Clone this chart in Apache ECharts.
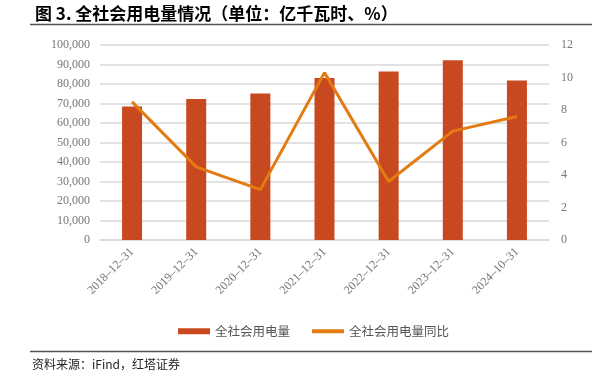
<!DOCTYPE html>
<html><head><meta charset="utf-8">
<script src="https://cdn.jsdelivr.net/npm/echarts@6/dist/echarts.min.js"></script>
<style>html,body{margin:0;padding:0;background:#fff}#c{width:595px;height:379px}</style>
</head><body><div id="c"></div>
<script>
const categories = ['2018-12-31','2019-12-31','2020-12-31','2021-12-31','2022-12-31','2023-12-31','2024-10-31'];
const consumption = [68449, 72255, 75110, 83128, 86372, 92241, 81854];
const yoy = [8.5, 4.5, 3.1, 10.3, 3.6, 6.7, 7.6];
const seriesNames = ['全社会用电量', '全社会用电量同比'];
const titleText = '图 3. 全社会用电量情况（单位：亿千瓦时、%）';
const sourceText = '资料来源：iFind，红塔证券';

const serif = '"Liberation Serif", "Noto Sans CJK SC", serif';
const cjk = '"Noto Sans CJK SC", sans-serif';
const chart = echarts.init(document.getElementById('c'), null, {renderer: 'canvas'});
chart.setOption({
  animation: false,
  backgroundColor: '#fff',
  title: {
    text: titleText, left: 30, top: 0,
    textStyle: {fontFamily: cjk, fontSize: 17, fontWeight: 'bold', color: '#000'}
  },
  graphic: [
    {type: 'line', shape: {x1: 30, y1: 24.5, x2: 592, y2: 24.5}, style: {stroke: '#555', lineWidth: 1.5}},
    {type: 'line', shape: {x1: 30, y1: 351.5, x2: 592, y2: 351.5}, style: {stroke: '#555', lineWidth: 1.5}},
    {type: 'text', left: 32, top: 358, style: {text: sourceText, fontFamily: cjk, fontSize: 12, fill: '#222'}}
  ],
  legend: {
    top: 320, left: 173, itemGap: 20, itemWidth: 32, itemHeight: 6,
    textStyle: {fontFamily: cjk, fontSize: 12.5, color: '#555'},
    data: [
      {name: seriesNames[0], icon: 'rect'},
      {name: seriesNames[1], itemStyle: {opacity: 0}, lineStyle: {width: 4}}
    ]
  },
  grid: {left: 100, right: 46, top: 45, bottom: 139},
  xAxis: {
    type: 'category', data: categories,
    axisLine: {show: true, lineStyle: {color: '#d9d9d9', width: 1.5}},
    axisTick: {show: false},
    axisLabel: {rotate: 45, color: '#777', fontFamily: serif, fontSize: 12, margin: 10, interval: 0,
      formatter: v => v.replace(/-/g, '–')}
  },
  yAxis: [
    {type: 'value', min: 0, max: 100000, interval: 10000,
     axisLine: {show: false}, axisTick: {show: false},
     splitLine: {lineStyle: {color: '#d9d9d9', width: 1.5}},
     axisLabel: {color: '#777', fontFamily: serif, fontSize: 12, margin: 10,
       formatter: v => v.toLocaleString('en-US')}},
    {type: 'value', min: 0, max: 12, interval: 2,
     axisLine: {show: false}, axisTick: {show: false}, splitLine: {show: false},
     axisLabel: {color: '#777', fontFamily: serif, fontSize: 12, margin: 12}}
  ],
  series: [
    {name: seriesNames[0], type: 'bar', data: consumption, barWidth: 20,
     itemStyle: {color: '#C8491F'}},
    {name: seriesNames[1], type: 'line', yAxisIndex: 1, data: yoy,
     symbol: 'none', lineStyle: {color: '#E37B12', width: 3}, itemStyle: {color: '#E37B12'}}
  ]
});
</script></body></html>
